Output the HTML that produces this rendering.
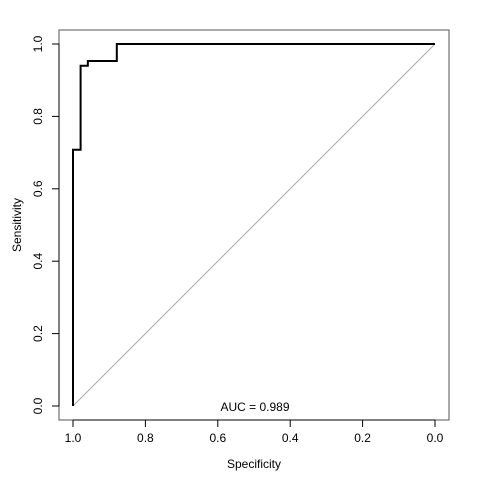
<!DOCTYPE html>
<html><head><meta charset="utf-8"><style>
body{margin:0;background:#fff}
svg text{font-family:"Liberation Sans",sans-serif;font-size:12px;fill:#000}
</style></head><body>
<svg id="chart" width="480" height="480">
<rect x="59" y="30" width="390" height="390" fill="none" stroke="#555" stroke-width="1"/>
<g id="axes"></g>
<line id="diag" stroke="#aaa" stroke-width="1"/>
<path id="roc" fill="none" stroke="#000" stroke-width="2"/>
<text x="255" y="411" text-anchor="middle">AUC = 0.989</text>
<text x="254" y="468" text-anchor="middle">Specificity</text>
<text transform="translate(21,225) rotate(-90)" text-anchor="middle">Sensitivity</text>
</svg>
<script>
const specificity=[1,1,0.979,0.979,0.959,0.959,0.879,0.879,0];
const sensitivity=[0,0.708,0.708,0.940,0.940,0.953,0.953,1,1];
const tickValues=[1.0,0.8,0.6,0.4,0.2,0.0];
const tickLabels=["1.0","0.8","0.6","0.4","0.2","0.0"];
const xs=v=>73+(1-v)*362;
const ys=v=>406-v*362;
const NS="http://www.w3.org/2000/svg";
const g=document.getElementById('axes');
function mk(t,a){const e=document.createElementNS(NS,t);for(const k in a)e.setAttribute(k,a[k]);g.appendChild(e);return e;}
mk('line',{x1:xs(1),x2:xs(0),y1:420,y2:420,stroke:'#000'});
mk('line',{x1:59,x2:59,y1:ys(0),y2:ys(1),stroke:'#000'});
tickValues.forEach((v,i)=>{
 const a=mk('line',{x1:xs(v),x2:xs(v),y1:420,y2:427,stroke:'#000'});
 
 
 const b=mk('text',{x:xs(v),y:442,'text-anchor':'middle'});b.textContent=tickLabels[i];
 
 
 const c=mk('line',{x1:52,x2:59,y1:ys(v),y2:ys(v),stroke:'#000'});
 
 
 const d=mk('text',{transform:`translate(42,${ys(v)}) rotate(-90)`,'text-anchor':'middle'});d.textContent=tickLabels[i];
 
 
});
const dg=document.getElementById('diag');
dg.setAttribute('x1',xs(1));dg.setAttribute('y1',ys(0));dg.setAttribute('x2',xs(0));dg.setAttribute('y2',ys(1));
document.getElementById('roc').setAttribute('d',specificity.map((s,i)=>(i?'L':'M')+xs(s)+','+ys(sensitivity[i])).join(' '));
</script>
</body></html>
